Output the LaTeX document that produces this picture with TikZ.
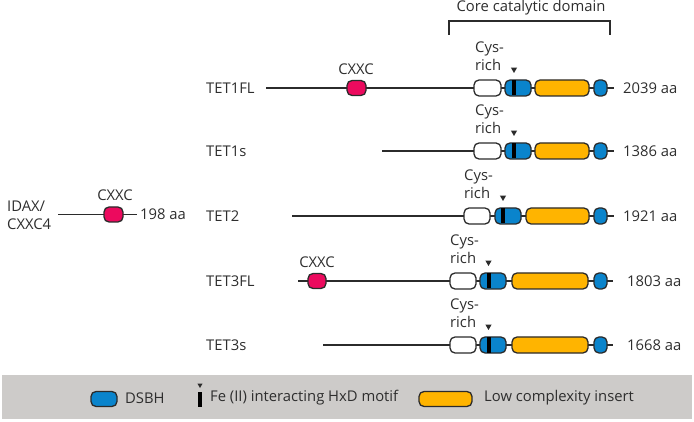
\documentclass[tikz,border=0pt]{standalone}
\usepackage{fontspec}
\setmainfont{Open Sans}
\usetikzlibrary{shapes.geometric}
\definecolor{outl}{HTML}{2B2B2B}
\definecolor{dsbh}{HTML}{0A84CC}
\definecolor{lci}{HTML}{FFB400}
\definecolor{cxxc}{HTML}{EC0A5E}
\definecolor{band}{HTML}{CDCBC9}
\definecolor{txt}{HTML}{2E2E2E}
\begin{document}
\begin{tikzpicture}[x=1pt,y=-1pt,
  every node/.style={text=txt, font=\fontsize{14.8}{18}\selectfont},
  dom/.style={draw=outl, line width=1.3pt, rounded corners=5pt, minimum height=16pt, inner sep=0pt},
  cysbox/.style={dom, fill=white},
  dsbhbox/.style={dom, fill=dsbh},
  lcibox/.style={dom, fill=lci},
  cxxcbox/.style={dom, fill=cxxc, minimum height=15pt},
  motif/.style={fill=black, inner sep=0pt, minimum width=4pt, minimum height=15pt},
  tip/.style={regular polygon, regular polygon sides=3, shape border rotate=180, fill=outl, inner sep=0pt, minimum size=7pt},
  bb/.style={draw=outl, line width=1.4pt},
  cyslab/.style={align=left, inner sep=0pt, anchor=west},
  lab/.style={anchor=west, inner sep=0pt},
  dlab/.style={inner sep=0pt}]
\useasboundingbox (0,0) rectangle (694,422);
% bracket
\node[dlab] (core) at (531,8) {Core catalytic domain};
\coordinate (brl) at (449,35);
\coordinate (brr) at (610,35);
\draw[bb] (brl) -- (449,21) -- (610,21) -- (brr);
% IDAX
\node[cyslab] (idax) at (7,215) {IDAX/\\CXXC4};
\coordinate (ia) at (58,214.5);
\coordinate (ib) at (137,214.5);
\draw[bb] (ia) -- (ib);
\node[cxxcbox, minimum width=19pt] (ix) at (113.5,214.5) {};
\node[dlab] (ixl) at (115,195) {CXXC};
\node[lab] (iaa) at (140,214.5) {198 aa};
% TET1FL
\node[lab] (t1n) at (206,88) {TET1FL};
\coordinate (t1a) at (266,88);
\coordinate (t1b) at (614,88);
\draw[bb] (t1a) -- (t1b);
\node[cxxcbox, minimum width=19pt] (t1x) at (356.5,88) {};
\node[dlab] (t1xl) at (356,69) {CXXC};
\node[cysbox, minimum width=27pt] (t1c) at (487.5,88) {};
\node[cyslab] (t1cl) at (475,56) {Cys-\\rich};
\node[dsbhbox, minimum width=26pt] (t1d) at (518,88) {};
\node[motif] (t1m) at (514,88) {};
\node[tip] (t1t) at (514,69.5) {};
\node[lcibox, minimum width=54pt] (t1l) at (562,88) {};
\node[dsbhbox, minimum width=13pt] (t1e) at (600.5,88) {};
\node[lab] (t1aa) at (623,88) {2039 aa};
% TET1s
\node[lab] (t2n) at (206,151) {TET1s};
\coordinate (t2a) at (382,151);
\coordinate (t2b) at (614,151);
\draw[bb] (t2a) -- (t2b);
\node[cysbox, minimum width=27pt] (t2c) at (487.5,151) {};
\node[cyslab] (t2cl) at (475,119) {Cys-\\rich};
\node[dsbhbox, minimum width=26pt] (t2d) at (518,151) {};
\node[motif] (t2m) at (514,151) {};
\node[tip] (t2t) at (514,132.5) {};
\node[lcibox, minimum width=54pt] (t2l) at (562,151) {};
\node[dsbhbox, minimum width=13pt] (t2e) at (600.5,151) {};
\node[lab] (t2aa) at (623,151) {1386 aa};
% TET2
\node[lab] (t3n) at (206,216) {TET2};
\coordinate (t3a) at (292,216);
\coordinate (t3b) at (614,216);
\draw[bb] (t3a) -- (t3b);
\node[cysbox, minimum width=26pt] (t3c) at (477,216) {};
\node[cyslab] (t3cl) at (464,184) {Cys-\\rich};
\node[dsbhbox, minimum width=26pt] (t3d) at (508,216) {};
\node[motif] (t3m) at (503,216) {};
\node[tip] (t3t) at (503,197.5) {};
\node[lcibox, minimum width=63pt] (t3l) at (557.5,216) {};
\node[dsbhbox, minimum width=13pt] (t3e) at (600.5,216) {};
\node[lab] (t3aa) at (623,216) {1921 aa};
% TET3FL
\node[lab] (t4n) at (206,281) {TET3FL};
\coordinate (t4a) at (298,281);
\coordinate (t4b) at (613,281);
\draw[bb] (t4a) -- (t4b);
\node[cxxcbox, minimum width=18pt] (t4x) at (317,281) {};
\node[dlab] (t4xl) at (317,262) {CXXC};
\node[cysbox, minimum width=26pt] (t4c) at (463,281) {};
\node[cyslab] (t4cl) at (450,249) {Cys-\\rich};
\node[dsbhbox, minimum width=26pt] (t4d) at (493,281) {};
\node[motif] (t4m) at (488.5,281) {};
\node[tip] (t4t) at (488.5,262.5) {};
\node[lcibox, minimum width=76pt] (t4l) at (550,281) {};
\node[dsbhbox, minimum width=13pt] (t4e) at (600.5,281) {};
\node[lab] (t4aa) at (627,281) {1803 aa};
% TET3s
\node[lab] (t5n) at (206,345) {TET3s};
\coordinate (t5a) at (323,345);
\coordinate (t5b) at (613,345);
\draw[bb] (t5a) -- (t5b);
\node[cysbox, minimum width=26pt] (t5c) at (463,345) {};
\node[cyslab] (t5cl) at (450,313) {Cys-\\rich};
\node[dsbhbox, minimum width=26pt] (t5d) at (493,345) {};
\node[motif] (t5m) at (488.5,345) {};
\node[tip] (t5t) at (488.5,326.5) {};
\node[lcibox, minimum width=76pt] (t5l) at (550,345) {};
\node[dsbhbox, minimum width=13pt] (t5e) at (600.5,345) {};
\node[lab] (t5aa) at (627,345) {1668 aa};
% legend
\fill[band] (2,375) rectangle (692,419);
\node[dsbhbox, minimum width=26pt, minimum height=15pt] (lg1) at (104,399) {};
\node[lab] (lg1t) at (125,398) {DSBH};
\node[tip, minimum size=6pt] (lg2a) at (200,385) {};
\node[motif, minimum width=3.5pt] (lg2b) at (200,399) {};
\node[lab] (lg2t) at (210,398) {Fe (II) interacting HxD motif};
\node[lcibox, minimum width=53pt, minimum height=15pt] (lg3) at (445.5,399) {};
\node[lab] (lg3t) at (484,398) {Low complexity insert};
\end{tikzpicture}
\end{document}
